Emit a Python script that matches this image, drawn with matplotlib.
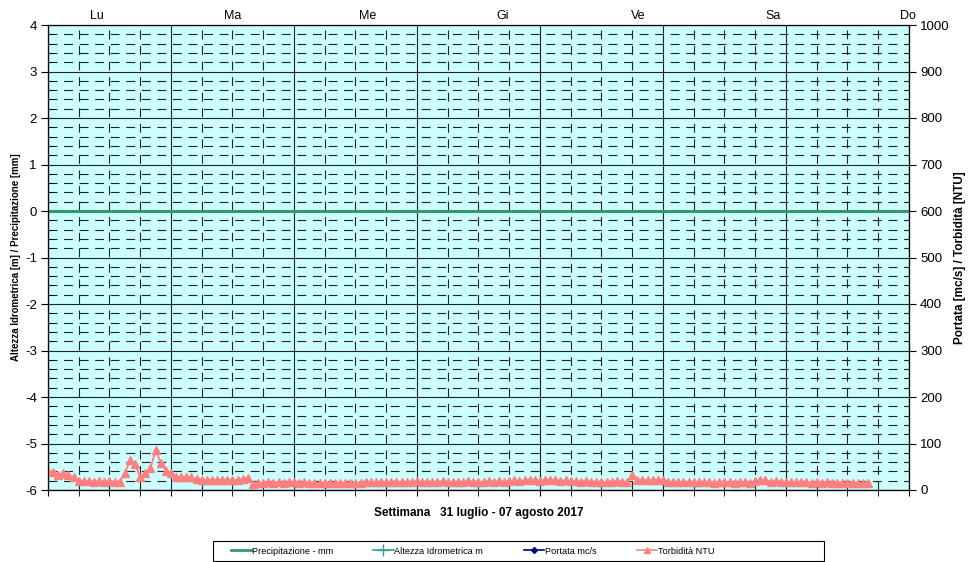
import matplotlib.pyplot as plt
import matplotlib.patches as mpatches
import numpy as np

plt.rcParams['font.family'] = ['Liberation Sans', 'DejaVu Sans']
plt.rcParams['axes.unicode_minus'] = False

# hourly readings, Monday 00:00 onwards
torbidita_ntu = [
    41, 39, 32, 36, 32, 27, 19, 19, 19, 18, 19, 18, 19, 18, 18, 36,
    64, 56, 27, 37, 47, 86, 59, 41,
    37, 29, 27, 29, 27, 24, 22, 21, 22, 21, 22, 22, 21, 22, 24, 26,
    12, 14, 16, 17, 16, 17, 16, 17, 17, 16, 17, 16,
    16, 15, 16, 15, 16, 15, 16, 16, 15, 16, 17, 18, 17, 18, 17, 18,
    18, 17, 18, 17, 19, 17, 18, 17, 18, 19, 17, 18, 17, 18, 19, 18,
    17, 18, 19, 18, 19, 18, 20, 21, 20, 21, 22, 21, 20, 21, 22, 21,
    20, 21, 20, 19, 18, 19, 18, 17, 18, 17, 18, 19, 18, 17, 32, 21,
    22, 21, 21, 22, 21, 18, 17, 18, 17, 18, 17, 17, 18, 17, 16, 17,
    18, 17, 16, 17, 17, 16, 19, 22, 21, 18, 19, 18, 17, 18, 17, 18,
    17, 16, 17, 16, 17, 16, 16, 15, 16, 15, 15, 15, 15,
]
ore = np.arange(len(torbidita_ntu))
precip_ore = [0, 168]
precip_mm = [0.0, 0.0]
giorni = ['Lu', 'Ma', 'Me', 'Gi', 'Ve', 'Sa', 'Do']
left_ticks = list(range(-6, 5))
right_ticks = list(range(0, 1001, 100))

fig = plt.figure(figsize=(9.7, 5.62), dpi=100)
ax = fig.add_axes([48 / 970, 1 - 490 / 562, 861 / 970, 465 / 562])
ax.set_facecolor('#ccffff')

ax.set_xlim(0, 168)
ax.set_ylim(-6, 4)
ax.set_xticks(np.arange(0, 169, 24))
ax.set_xticks(np.arange(0, 169, 6), minor=True)
ax.set_xticklabels([])
ax.set_yticks(left_ticks)
ax.set_yticks(np.arange(-6, 4.01, 0.2), minor=True)
ax.tick_params(axis='y', which='major', direction='out', length=5, labelsize=9.5, pad=3)
ax.tick_params(axis='y', which='minor', direction='in', length=4)
ax.tick_params(axis='x', which='both', direction='out', length=4)

ax.grid(True, which='major', color='#222222', lw=0.8)
ax.grid(True, which='minor', color='#222222', lw=0.8, ls=(0, (8, 6)))
ax.set_axisbelow(True)

ax.plot(precip_ore, precip_mm, color='#339966', lw=2.2, zorder=3)

ax.set_ylabel('Altezza Idrometrica [m] / Precipitazione [mm]', fontsize=7,
              fontweight='bold')
ax.yaxis.set_label_coords(-27 / 861, 0.5)
ax.set_xlabel('Settimana   31 luglio - 07 agosto 2017', fontsize=8.5,
              fontweight='bold', labelpad=5)
for s in ['left', 'bottom', 'right']:
    ax.spines[s].set_color('black')
ax.spines['top'].set_color('#888888')

ax2 = ax.twinx()
ax2.set_ylim(0, 1000)
ax2.set_yticks(right_ticks)
ax2.tick_params(axis='y', direction='out', length=5, labelsize=9.5, pad=3)
ax2.set_ylabel('Portata [mc/s] / Torbidità [NTU]', fontsize=8.5,
               fontweight='bold')
ax2.yaxis.set_label_coords(1 + 45 / 861, 0.5)
ax2.plot(ore, torbidita_ntu, color='#ff8080', lw=1.3, marker='^', ms=5.5,
         mec='#ff8080', mfc='#ff8080', zorder=4)

ax3 = ax.twiny()
ax3.set_xlim(0, 168)
ax3.set_xticks(np.linspace(9.6, 167.8, len(giorni)))
ax3.set_xticklabels(giorni, fontsize=9)
ax3.tick_params(axis='x', length=0, pad=2)

# legend box (Excel style: items left-aligned inside a wide frame)
fig.patches.append(mpatches.Rectangle((213 / 970, 1 - 561 / 562), 611 / 970, 20 / 562,
                                      transform=fig.transFigure, fill=False,
                                      edgecolor='black', lw=0.8))
handles = [
    plt.Line2D([], [], color='#339966', lw=2),
    plt.Line2D([], [], color='#339999', marker='+', ms=8, lw=1.2),
    plt.Line2D([], [], color='#000080', marker='D', ms=3, lw=1.2),
    plt.Line2D([], [], color='#ff8080', marker='^', ms=5, lw=1.2),
]
labels = ['Precipitazione - mm', 'Altezza Idrometrica m', 'Portata mc/s', 'Torbidità NTU']
fig.legend(handles, labels, loc='center', bbox_to_anchor=(472.5 / 970, 1 - 551 / 562),
           ncol=4, fontsize=6.6, frameon=False,
           handlelength=2.2, handletextpad=0.1, columnspacing=4.4, borderpad=0.2)

fig.savefig('out.png', dpi=100)
